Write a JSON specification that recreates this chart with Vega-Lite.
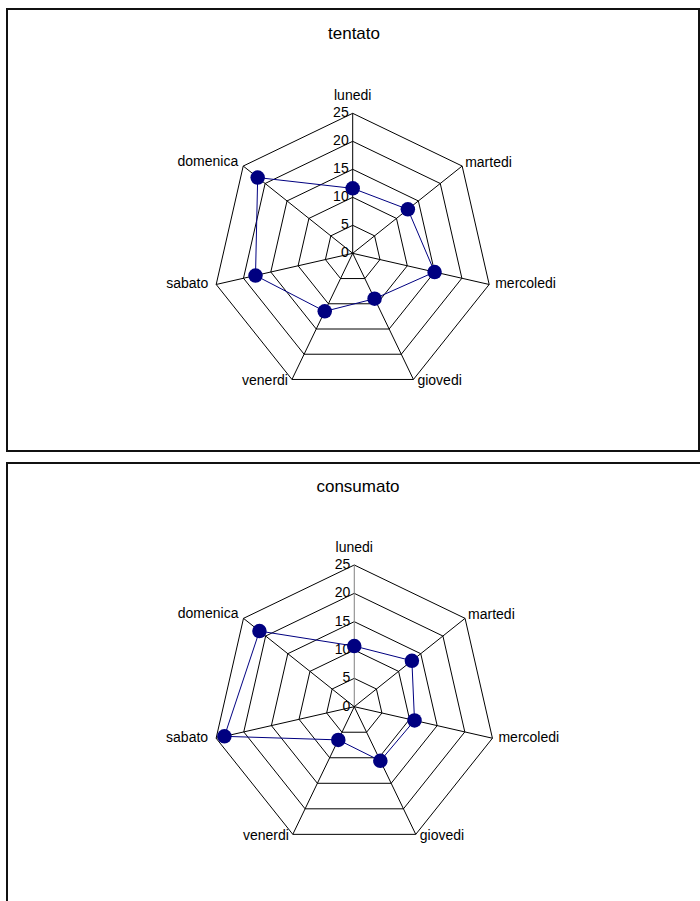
{
  "$schema": "https://vega.github.io/schema/vega-lite/v6.json",
  "padding": {"left": 6, "top": 8, "right": 0, "bottom": 0},
  "spacing": 10,
  "config": {"font": "Liberation Sans", "view": {"stroke": "#111", "strokeWidth": 2}},
  "datasets": {
    "vals": [
      {"chart": "tentato", "day": "lunedi", "value": 11.6},
      {"chart": "tentato", "day": "martedi", "value": 12.6},
      {"chart": "tentato", "day": "mercoledi", "value": 15},
      {"chart": "tentato", "day": "giovedi", "value": 9},
      {"chart": "tentato", "day": "venerdi", "value": 11.5},
      {"chart": "tentato", "day": "sabato", "value": 17.8},
      {"chart": "tentato", "day": "domenica", "value": 21.7},
      {"chart": "consumato", "day": "lunedi", "value": 10.7},
      {"chart": "consumato", "day": "martedi", "value": 13},
      {"chart": "consumato", "day": "mercoledi", "value": 10.9},
      {"chart": "consumato", "day": "giovedi", "value": 10.6},
      {"chart": "consumato", "day": "venerdi", "value": 6.5},
      {"chart": "consumato", "day": "sabato", "value": 23.5},
      {"chart": "consumato", "day": "domenica", "value": 21.4}
    ],
    "grid": [
      {"day": "lunedi", "ring": 0}, {"day": "lunedi", "ring": 5}, {"day": "lunedi", "ring": 10}, {"day": "lunedi", "ring": 15}, {"day": "lunedi", "ring": 20}, {"day": "lunedi", "ring": 25},
      {"day": "martedi", "ring": 5}, {"day": "martedi", "ring": 10}, {"day": "martedi", "ring": 15}, {"day": "martedi", "ring": 20}, {"day": "martedi", "ring": 25},
      {"day": "mercoledi", "ring": 5}, {"day": "mercoledi", "ring": 10}, {"day": "mercoledi", "ring": 15}, {"day": "mercoledi", "ring": 20}, {"day": "mercoledi", "ring": 25},
      {"day": "giovedi", "ring": 5}, {"day": "giovedi", "ring": 10}, {"day": "giovedi", "ring": 15}, {"day": "giovedi", "ring": 20}, {"day": "giovedi", "ring": 25},
      {"day": "venerdi", "ring": 5}, {"day": "venerdi", "ring": 10}, {"day": "venerdi", "ring": 15}, {"day": "venerdi", "ring": 20}, {"day": "venerdi", "ring": 25},
      {"day": "sabato", "ring": 5}, {"day": "sabato", "ring": 10}, {"day": "sabato", "ring": 15}, {"day": "sabato", "ring": 20}, {"day": "sabato", "ring": 25},
      {"day": "domenica", "ring": 5}, {"day": "domenica", "ring": 10}, {"day": "domenica", "ring": 15}, {"day": "domenica", "ring": 20}, {"day": "domenica", "ring": 25}
    ]
  },
  "vconcat": [
    {
      "width": 692,
      "height": 442,
      "title": {"text": "tentato", "orient": "top", "anchor": "middle", "offset": -47, "baseline": "alphabetic", "fontSize": 17, "fontWeight": "normal", "color": "black", "dx": 1},
      "layer": [
        {
          "data": {"name": "grid"},
          "transform": [
            {"filter": "datum.ring > 0"},
            {"calculate": "indexof(['lunedi','martedi','mercoledi','giovedi','venerdi','sabato','domenica'], datum.day)", "as": "idx"},
            {"calculate": "datum.ring * sin(datum.idx * 2 * PI / 7)", "as": "x"},
            {"calculate": "datum.ring * cos(datum.idx * 2 * PI / 7)", "as": "y"}
          ],
          "mark": {"type": "line", "interpolate": "linear-closed", "stroke": "black", "strokeWidth": 1},
          "encoding": {
            "x": {"field": "x", "type": "quantitative", "scale": {"domain": [-61.73, 61.84], "nice": false, "zero": false}, "axis": null},
            "y": {"field": "y", "type": "quantitative", "scale": {"domain": [-35.3, 43.63], "nice": false, "zero": false}, "axis": null},
            "detail": {"field": "ring"},
            "order": {"field": "idx"}
          }
        },
        {
          "data": {"name": "grid"},
          "transform": [
            {"filter": "datum.ring == 25"},
            {"calculate": "indexof(['lunedi','martedi','mercoledi','giovedi','venerdi','sabato','domenica'], datum.day)", "as": "idx"},
            {"calculate": "datum.ring * sin(datum.idx * 2 * PI / 7)", "as": "x"},
            {"calculate": "datum.ring * cos(datum.idx * 2 * PI / 7)", "as": "y"}
          ],
          "mark": {"type": "rule", "stroke": "black", "strokeWidth": 1},
          "encoding": {
            "x": {"field": "x", "type": "quantitative", "axis": null},
            "y": {"field": "y", "type": "quantitative", "axis": null},
            "x2": {"datum": 0},
            "y2": {"datum": 0}
          }
        },
        {
          "data": {"name": "grid"},
          "transform": [
            {"filter": "datum.day == 'lunedi'"},
            {"calculate": "0", "as": "x"},
            {"calculate": "datum.ring", "as": "y"}
          ],
          "mark": {"type": "text", "align": "right", "baseline": "middle", "dx": -4, "fontSize": 14, "color": "black"},
          "encoding": {
            "x": {"field": "x", "type": "quantitative", "axis": null},
            "y": {"field": "y", "type": "quantitative", "axis": null},
            "text": {"field": "ring"}
          }
        },
        {
          "data": {"name": "grid"},
          "transform": [
            {"filter": "datum.ring == 25 && datum.day == 'lunedi'"},
            {"calculate": "0", "as": "x"},
            {"calculate": "datum.ring", "as": "y"}
          ],
          "mark": {"type": "text", "align": "center", "baseline": "alphabetic", "dy": -13, "fontSize": 14, "color": "black"},
          "encoding": {
            "x": {"field": "x", "type": "quantitative", "axis": null},
            "y": {"field": "y", "type": "quantitative", "axis": null},
            "text": {"field": "day"}
          }
        },
        {
          "data": {"name": "grid"},
          "transform": [
            {"filter": "datum.ring == 25 && datum.day == 'martedi'"},
            {"calculate": "indexof(['lunedi','martedi','mercoledi','giovedi','venerdi','sabato','domenica'], datum.day)", "as": "idx"},
            {"calculate": "datum.ring * sin(datum.idx * 2 * PI / 7)", "as": "x"},
            {"calculate": "datum.ring * cos(datum.idx * 2 * PI / 7)", "as": "y"}
          ],
          "mark": {"type": "text", "align": "left", "baseline": "middle", "dx": 3, "dy": -3, "fontSize": 14, "color": "black"},
          "encoding": {
            "x": {"field": "x", "type": "quantitative", "axis": null},
            "y": {"field": "y", "type": "quantitative", "axis": null},
            "text": {"field": "day"}
          }
        },
        {
          "data": {"name": "grid"},
          "transform": [
            {"filter": "datum.ring == 25 && datum.day == 'mercoledi'"},
            {"calculate": "indexof(['lunedi','martedi','mercoledi','giovedi','venerdi','sabato','domenica'], datum.day)", "as": "idx"},
            {"calculate": "datum.ring * sin(datum.idx * 2 * PI / 7)", "as": "x"},
            {"calculate": "datum.ring * cos(datum.idx * 2 * PI / 7)", "as": "y"}
          ],
          "mark": {"type": "text", "align": "left", "baseline": "middle", "dx": 6, "dy": 0, "fontSize": 14, "color": "black"},
          "encoding": {
            "x": {"field": "x", "type": "quantitative", "axis": null},
            "y": {"field": "y", "type": "quantitative", "axis": null},
            "text": {"field": "day"}
          }
        },
        {
          "data": {"name": "grid"},
          "transform": [
            {"filter": "datum.ring == 25 && datum.day == 'giovedi'"},
            {"calculate": "indexof(['lunedi','martedi','mercoledi','giovedi','venerdi','sabato','domenica'], datum.day)", "as": "idx"},
            {"calculate": "datum.ring * sin(datum.idx * 2 * PI / 7)", "as": "x"},
            {"calculate": "datum.ring * cos(datum.idx * 2 * PI / 7)", "as": "y"}
          ],
          "mark": {"type": "text", "align": "left", "baseline": "middle", "dx": 4, "dy": 2, "fontSize": 14, "color": "black"},
          "encoding": {
            "x": {"field": "x", "type": "quantitative", "axis": null},
            "y": {"field": "y", "type": "quantitative", "axis": null},
            "text": {"field": "day"}
          }
        },
        {
          "data": {"name": "grid"},
          "transform": [
            {"filter": "datum.ring == 25 && datum.day == 'venerdi'"},
            {"calculate": "indexof(['lunedi','martedi','mercoledi','giovedi','venerdi','sabato','domenica'], datum.day)", "as": "idx"},
            {"calculate": "datum.ring * sin(datum.idx * 2 * PI / 7)", "as": "x"},
            {"calculate": "datum.ring * cos(datum.idx * 2 * PI / 7)", "as": "y"}
          ],
          "mark": {"type": "text", "align": "right", "baseline": "middle", "dx": -4, "dy": 2, "fontSize": 14, "color": "black"},
          "encoding": {
            "x": {"field": "x", "type": "quantitative", "axis": null},
            "y": {"field": "y", "type": "quantitative", "axis": null},
            "text": {"field": "day"}
          }
        },
        {
          "data": {"name": "grid"},
          "transform": [
            {"filter": "datum.ring == 25 && datum.day == 'sabato'"},
            {"calculate": "indexof(['lunedi','martedi','mercoledi','giovedi','venerdi','sabato','domenica'], datum.day)", "as": "idx"},
            {"calculate": "datum.ring * sin(datum.idx * 2 * PI / 7)", "as": "x"},
            {"calculate": "datum.ring * cos(datum.idx * 2 * PI / 7)", "as": "y"}
          ],
          "mark": {"type": "text", "align": "right", "baseline": "middle", "dx": -8, "dy": 0, "fontSize": 14, "color": "black"},
          "encoding": {
            "x": {"field": "x", "type": "quantitative", "axis": null},
            "y": {"field": "y", "type": "quantitative", "axis": null},
            "text": {"field": "day"}
          }
        },
        {
          "data": {"name": "grid"},
          "transform": [
            {"filter": "datum.ring == 25 && datum.day == 'domenica'"},
            {"calculate": "indexof(['lunedi','martedi','mercoledi','giovedi','venerdi','sabato','domenica'], datum.day)", "as": "idx"},
            {"calculate": "datum.ring * sin(datum.idx * 2 * PI / 7)", "as": "x"},
            {"calculate": "datum.ring * cos(datum.idx * 2 * PI / 7)", "as": "y"}
          ],
          "mark": {"type": "text", "align": "right", "baseline": "middle", "dx": -5, "dy": -4, "fontSize": 14, "color": "black"},
          "encoding": {
            "x": {"field": "x", "type": "quantitative", "axis": null},
            "y": {"field": "y", "type": "quantitative", "axis": null},
            "text": {"field": "day"}
          }
        },
        {
          "data": {"name": "vals"},
          "transform": [
            {"filter": "datum.chart == 'tentato'"},
            {"calculate": "indexof(['lunedi','martedi','mercoledi','giovedi','venerdi','sabato','domenica'], datum.day)", "as": "idx"},
            {"calculate": "datum.value * sin(datum.idx * 2 * PI / 7)", "as": "x"},
            {"calculate": "datum.value * cos(datum.idx * 2 * PI / 7)", "as": "y"}
          ],
          "mark": {"type": "line", "interpolate": "linear-closed", "stroke": "#000080", "strokeWidth": 1},
          "encoding": {
            "x": {"field": "x", "type": "quantitative", "axis": null},
            "y": {"field": "y", "type": "quantitative", "axis": null},
            "order": {"field": "idx"}
          }
        },
        {
          "data": {"name": "vals"},
          "transform": [
            {"filter": "datum.chart == 'tentato'"},
            {"calculate": "indexof(['lunedi','martedi','mercoledi','giovedi','venerdi','sabato','domenica'], datum.day)", "as": "idx"},
            {"calculate": "datum.value * sin(datum.idx * 2 * PI / 7)", "as": "x"},
            {"calculate": "datum.value * cos(datum.idx * 2 * PI / 7)", "as": "y"}
          ],
          "mark": {"type": "circle", "size": 210, "opacity": 1, "color": "#000080"},
          "encoding": {
            "x": {"field": "x", "type": "quantitative", "axis": null},
            "y": {"field": "y", "type": "quantitative", "axis": null}
          }
        }
      ]
    },
    {
      "width": 700,
      "height": 445,
      "title": {"text": "consumato", "orient": "top", "anchor": "middle", "offset": -46, "baseline": "alphabetic", "fontSize": 17, "fontWeight": "normal", "color": "black", "dx": 1},
      "layer": [
        {
          "data": {"name": "grid"},
          "transform": [
            {"filter": "datum.ring > 0"},
            {"calculate": "indexof(['lunedi','martedi','mercoledi','giovedi','venerdi','sabato','domenica'], datum.day)", "as": "idx"},
            {"calculate": "datum.ring * sin(datum.idx * 2 * PI / 7)", "as": "x"},
            {"calculate": "datum.ring * cos(datum.idx * 2 * PI / 7)", "as": "y"}
          ],
          "mark": {"type": "line", "interpolate": "linear-closed", "stroke": "black", "strokeWidth": 1},
          "encoding": {
            "x": {"field": "x", "type": "quantitative", "scale": {"domain": [-61.27, 62.23], "nice": false, "zero": false}, "axis": null},
            "y": {"field": "y", "type": "quantitative", "scale": {"domain": [-35.52, 43.0], "nice": false, "zero": false}, "axis": null},
            "detail": {"field": "ring"},
            "order": {"field": "idx"}
          }
        },
        {
          "data": {"name": "grid"},
          "transform": [
            {"filter": "datum.ring == 25"},
            {"calculate": "indexof(['lunedi','martedi','mercoledi','giovedi','venerdi','sabato','domenica'], datum.day)", "as": "idx"},
            {"calculate": "datum.ring * sin(datum.idx * 2 * PI / 7)", "as": "x"},
            {"calculate": "datum.ring * cos(datum.idx * 2 * PI / 7)", "as": "y"}
          ],
          "mark": {"type": "rule", "strokeWidth": 1},
          "encoding": {
            "x": {"field": "x", "type": "quantitative", "axis": null},
            "y": {"field": "y", "type": "quantitative", "axis": null},
            "x2": {"datum": 0},
            "y2": {"datum": 0},
            "color": {"condition": {"test": "datum.day == 'lunedi'", "value": "#808080"}, "value": "black"}
          }
        },
        {
          "data": {"name": "grid"},
          "transform": [
            {"filter": "datum.day == 'lunedi'"},
            {"calculate": "0", "as": "x"},
            {"calculate": "datum.ring", "as": "y"}
          ],
          "mark": {"type": "text", "align": "right", "baseline": "middle", "dx": -4, "fontSize": 14, "color": "black"},
          "encoding": {
            "x": {"field": "x", "type": "quantitative", "axis": null},
            "y": {"field": "y", "type": "quantitative", "axis": null},
            "text": {"field": "ring"}
          }
        },
        {
          "data": {"name": "grid"},
          "transform": [
            {"filter": "datum.ring == 25 && datum.day == 'lunedi'"},
            {"calculate": "0", "as": "x"},
            {"calculate": "datum.ring", "as": "y"}
          ],
          "mark": {"type": "text", "align": "center", "baseline": "alphabetic", "dy": -13, "fontSize": 14, "color": "black"},
          "encoding": {
            "x": {"field": "x", "type": "quantitative", "axis": null},
            "y": {"field": "y", "type": "quantitative", "axis": null},
            "text": {"field": "day"}
          }
        },
        {
          "data": {"name": "grid"},
          "transform": [
            {"filter": "datum.ring == 25 && datum.day == 'martedi'"},
            {"calculate": "indexof(['lunedi','martedi','mercoledi','giovedi','venerdi','sabato','domenica'], datum.day)", "as": "idx"},
            {"calculate": "datum.ring * sin(datum.idx * 2 * PI / 7)", "as": "x"},
            {"calculate": "datum.ring * cos(datum.idx * 2 * PI / 7)", "as": "y"}
          ],
          "mark": {"type": "text", "align": "left", "baseline": "middle", "dx": 3, "dy": -3, "fontSize": 14, "color": "black"},
          "encoding": {
            "x": {"field": "x", "type": "quantitative", "axis": null},
            "y": {"field": "y", "type": "quantitative", "axis": null},
            "text": {"field": "day"}
          }
        },
        {
          "data": {"name": "grid"},
          "transform": [
            {"filter": "datum.ring == 25 && datum.day == 'mercoledi'"},
            {"calculate": "indexof(['lunedi','martedi','mercoledi','giovedi','venerdi','sabato','domenica'], datum.day)", "as": "idx"},
            {"calculate": "datum.ring * sin(datum.idx * 2 * PI / 7)", "as": "x"},
            {"calculate": "datum.ring * cos(datum.idx * 2 * PI / 7)", "as": "y"}
          ],
          "mark": {"type": "text", "align": "left", "baseline": "middle", "dx": 6, "dy": 0, "fontSize": 14, "color": "black"},
          "encoding": {
            "x": {"field": "x", "type": "quantitative", "axis": null},
            "y": {"field": "y", "type": "quantitative", "axis": null},
            "text": {"field": "day"}
          }
        },
        {
          "data": {"name": "grid"},
          "transform": [
            {"filter": "datum.ring == 25 && datum.day == 'giovedi'"},
            {"calculate": "indexof(['lunedi','martedi','mercoledi','giovedi','venerdi','sabato','domenica'], datum.day)", "as": "idx"},
            {"calculate": "datum.ring * sin(datum.idx * 2 * PI / 7)", "as": "x"},
            {"calculate": "datum.ring * cos(datum.idx * 2 * PI / 7)", "as": "y"}
          ],
          "mark": {"type": "text", "align": "left", "baseline": "middle", "dx": 4, "dy": 2, "fontSize": 14, "color": "black"},
          "encoding": {
            "x": {"field": "x", "type": "quantitative", "axis": null},
            "y": {"field": "y", "type": "quantitative", "axis": null},
            "text": {"field": "day"}
          }
        },
        {
          "data": {"name": "grid"},
          "transform": [
            {"filter": "datum.ring == 25 && datum.day == 'venerdi'"},
            {"calculate": "indexof(['lunedi','martedi','mercoledi','giovedi','venerdi','sabato','domenica'], datum.day)", "as": "idx"},
            {"calculate": "datum.ring * sin(datum.idx * 2 * PI / 7)", "as": "x"},
            {"calculate": "datum.ring * cos(datum.idx * 2 * PI / 7)", "as": "y"}
          ],
          "mark": {"type": "text", "align": "right", "baseline": "middle", "dx": -4, "dy": 2, "fontSize": 14, "color": "black"},
          "encoding": {
            "x": {"field": "x", "type": "quantitative", "axis": null},
            "y": {"field": "y", "type": "quantitative", "axis": null},
            "text": {"field": "day"}
          }
        },
        {
          "data": {"name": "grid"},
          "transform": [
            {"filter": "datum.ring == 25 && datum.day == 'sabato'"},
            {"calculate": "indexof(['lunedi','martedi','mercoledi','giovedi','venerdi','sabato','domenica'], datum.day)", "as": "idx"},
            {"calculate": "datum.ring * sin(datum.idx * 2 * PI / 7)", "as": "x"},
            {"calculate": "datum.ring * cos(datum.idx * 2 * PI / 7)", "as": "y"}
          ],
          "mark": {"type": "text", "align": "right", "baseline": "middle", "dx": -8, "dy": 0, "fontSize": 14, "color": "black"},
          "encoding": {
            "x": {"field": "x", "type": "quantitative", "axis": null},
            "y": {"field": "y", "type": "quantitative", "axis": null},
            "text": {"field": "day"}
          }
        },
        {
          "data": {"name": "grid"},
          "transform": [
            {"filter": "datum.ring == 25 && datum.day == 'domenica'"},
            {"calculate": "indexof(['lunedi','martedi','mercoledi','giovedi','venerdi','sabato','domenica'], datum.day)", "as": "idx"},
            {"calculate": "datum.ring * sin(datum.idx * 2 * PI / 7)", "as": "x"},
            {"calculate": "datum.ring * cos(datum.idx * 2 * PI / 7)", "as": "y"}
          ],
          "mark": {"type": "text", "align": "right", "baseline": "middle", "dx": -5, "dy": -4, "fontSize": 14, "color": "black"},
          "encoding": {
            "x": {"field": "x", "type": "quantitative", "axis": null},
            "y": {"field": "y", "type": "quantitative", "axis": null},
            "text": {"field": "day"}
          }
        },
        {
          "data": {"name": "vals"},
          "transform": [
            {"filter": "datum.chart == 'consumato'"},
            {"calculate": "indexof(['lunedi','martedi','mercoledi','giovedi','venerdi','sabato','domenica'], datum.day)", "as": "idx"},
            {"calculate": "datum.value * sin(datum.idx * 2 * PI / 7)", "as": "x"},
            {"calculate": "datum.value * cos(datum.idx * 2 * PI / 7)", "as": "y"}
          ],
          "mark": {"type": "line", "interpolate": "linear-closed", "stroke": "#000080", "strokeWidth": 1},
          "encoding": {
            "x": {"field": "x", "type": "quantitative", "axis": null},
            "y": {"field": "y", "type": "quantitative", "axis": null},
            "order": {"field": "idx"}
          }
        },
        {
          "data": {"name": "vals"},
          "transform": [
            {"filter": "datum.chart == 'consumato'"},
            {"calculate": "indexof(['lunedi','martedi','mercoledi','giovedi','venerdi','sabato','domenica'], datum.day)", "as": "idx"},
            {"calculate": "datum.value * sin(datum.idx * 2 * PI / 7)", "as": "x"},
            {"calculate": "datum.value * cos(datum.idx * 2 * PI / 7)", "as": "y"}
          ],
          "mark": {"type": "circle", "size": 210, "opacity": 1, "color": "#000080"},
          "encoding": {
            "x": {"field": "x", "type": "quantitative", "axis": null},
            "y": {"field": "y", "type": "quantitative", "axis": null}
          }
        }
      ]
    }
  ]
}
